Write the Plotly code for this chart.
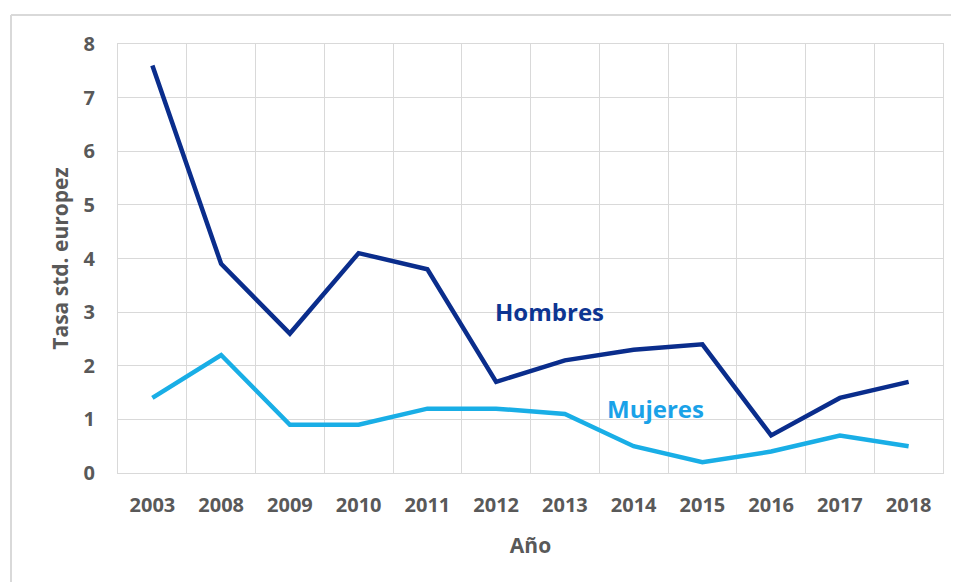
import plotly.graph_objects as go

years = ["2003", "2008", "2009", "2010", "2011", "2012", "2013", "2014", "2015", "2016", "2017", "2018"]
hombres = [7.6, 3.9, 2.6, 4.1, 3.8, 1.7, 2.1, 2.3, 2.4, 0.7, 1.4, 1.7]
mujeres = [1.4, 2.2, 0.9, 0.9, 1.2, 1.2, 1.1, 0.5, 0.2, 0.4, 0.7, 0.5]

c_h = "#0a2d8c"
c_m = "#19aee6"
grid = "#d9d9d9"
txt = "#595959"
font_family = "Open Sans"

fig = go.Figure()
fig.add_trace(go.Scatter(x=years, y=hombres, mode="lines", name="Hombres",
                         line=dict(color=c_h, width=4.5)))
fig.add_trace(go.Scatter(x=years, y=mujeres, mode="lines", name="Mujeres",
                         line=dict(color=c_m, width=4.5)))

fig.add_annotation(x=years.index("2012"), y=3.02, text="<b>Hombres</b>", showarrow=False,
                   xanchor="left", xshift=-3, font=dict(color="#0d3592", size=24, family=font_family))
fig.add_annotation(x=years.index("2014"), y=1.21, text="<b>Mujeres</b>", showarrow=False,
                   xanchor="left", xshift=-29, font=dict(color="#1aa2e8", size=24, family=font_family))

# outer chart frame (top and left edges visible; continues past right and bottom)
fx0 = (11 - 118) / 825
fy1 = (473 - 15) / 429
fig.add_shape(type="line", xref="paper", yref="paper",
              x0=fx0, y0=fy1, x1=1.5, y1=fy1, line=dict(color="#d9d9d9", width=2))
fig.add_shape(type="line", xref="paper", yref="paper",
              x0=fx0, y0=fy1, x1=fx0, y1=-0.5, line=dict(color="#d9d9d9", width=2))

fig.update_layout(
    width=951, height=574,
    margin=dict(l=110, r=16, t=36, b=109),
    paper_bgcolor="white", plot_bgcolor="white",
    showlegend=False,
    font=dict(family=font_family, color=txt),
)
fig.update_xaxes(
    type="category", range=[-0.5, 11.5], tickson="boundaries", showgrid=True,
    gridcolor=grid, gridwidth=1,
    showline=True, linecolor=grid, mirror=True, ticks="", tickangle=0,
    tickfont=dict(size=20, color=txt, family=font_family),
    tickprefix="<b>", ticksuffix="</b>", ticklabelstandoff=14,
    title=dict(text="<b>Año</b>", font=dict(size=21, color=txt), standoff=21),
)
fig.update_yaxes(
    range=[0, 8], dtick=1, showgrid=True, gridcolor=grid, gridwidth=1,
    zeroline=False, showline=True, linecolor=grid, mirror=True, ticks="",
    tickfont=dict(size=20, color=txt, family=font_family),
    tickprefix="<b>", ticksuffix="</b>", ticklabelstandoff=18,
    title=dict(text="<b>Tasa std. europez</b>", font=dict(size=21, color=txt), standoff=9),
)

fig.write_html("out.html")
